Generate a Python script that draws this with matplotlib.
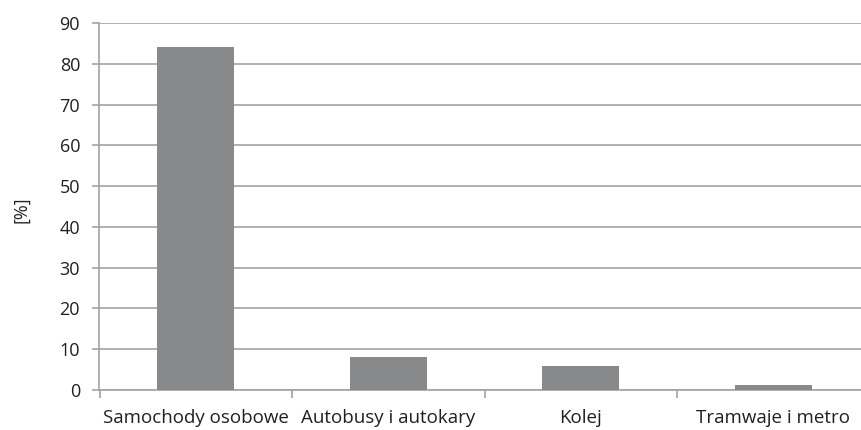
import matplotlib
matplotlib.use("Agg")
import matplotlib.pyplot as plt
import numpy as np

plt.rcParams['font.family'] = ['Open Sans', 'DejaVu Sans']

# Udział środków transportu w przewozach pasażerskich
categories = ["Samochody osobowe", "Autobusy i autokary", "Kolej", "Tramwaje i metro"]
values = [84.0, 8.0, 6.0, 1.2]
yticks = [0, 10, 20, 30, 40, 50, 60, 70, 80, 90]

grid_color = "#a3a3a3"
bar_color = "#88898b"
text_color = "#231f20"

fig = plt.figure(figsize=(8.62, 4.30), dpi=100)
ax = fig.add_axes([99.5 / 862, 40 / 430, 770 / 862, 367 / 430])

x = np.arange(len(categories))
ax.bar(x, values, width=0.4, color=bar_color, zorder=3)

ax.set_xlim(-0.5, len(categories) - 0.5)
ax.set_ylim(0, 90)
ax.set_yticks(yticks)
ax.yaxis.grid(True, color=grid_color, linewidth=1.2, zorder=0)

# category labels in the middle, tick marks on the boundaries
ax.set_xticks(x)
ax.set_xticklabels(categories, fontsize=13.5, color=text_color)
ax.tick_params(axis='x', length=0, pad=14)
ax.set_xticks(np.arange(-0.5, len(categories)), minor=True)
ax.tick_params(axis='x', which='minor', length=5.5, width=1.2, color=grid_color)
ax.tick_params(axis='y', length=5, width=1.2, color=grid_color,
               labelsize=13, labelcolor=text_color, pad=9)

for side in ["top", "right"]:
    ax.spines[side].set_visible(False)
for side in ["left", "bottom"]:
    ax.spines[side].set_color(grid_color)
    ax.spines[side].set_linewidth(1.2)

ax.set_ylabel("[%]", fontsize=13, color=text_color)
ax.yaxis.set_label_coords(-0.090, 0.49)

fig.savefig("out.png", dpi=100)
